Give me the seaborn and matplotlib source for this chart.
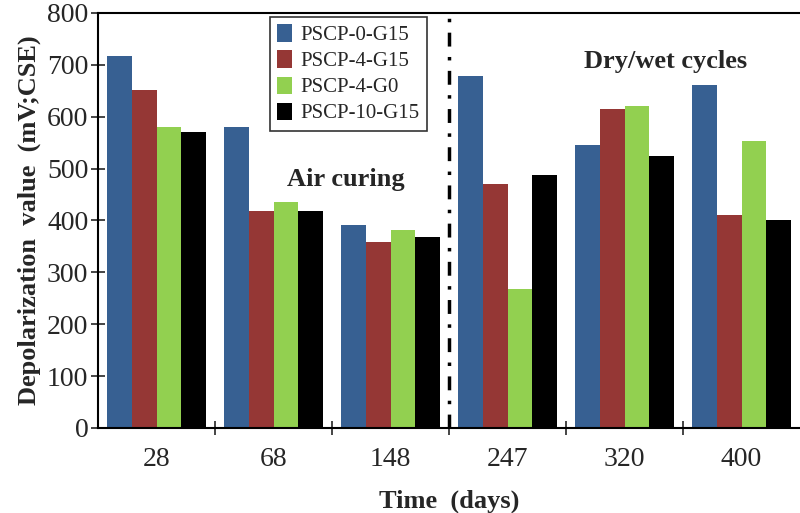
import pandas as pd
import matplotlib
matplotlib.use('Agg')
import matplotlib.pyplot as plt
import seaborn as sns

# Data
days = ['28', '68', '148', '247', '320', '400']
pscp_0_g15 = [717, 581, 391, 678, 545, 661]
pscp_4_g15 = [651, 418, 358, 471, 615, 411]
pscp_4_g0 = [581, 435, 381, 268, 620, 554]
pscp_10_g15 = [570, 418, 368, 488, 524, 401]

series = {
    'PSCP-0-G15': pscp_0_g15,
    'PSCP-4-G15': pscp_4_g15,
    'PSCP-4-G0': pscp_4_g0,
    'PSCP-10-G15': pscp_10_g15,
}
colors = ['#376092', '#953735', '#92D050', '#000000']

rows = []
for name, vals in series.items():
    for d, v in zip(days, vals):
        rows.append({'Time': d, 'Value': v, 'Mix': name})
df = pd.DataFrame(rows)

sns.set_style('white')
plt.rcParams['font.family'] = ['Liberation Serif', 'DejaVu Serif']

fig = plt.figure(figsize=(8, 5.13), dpi=100)
ax = fig.add_axes([0.1225, 0.1657, 0.8775, 0.809])

sns.barplot(data=df, x='Time', y='Value', hue='Mix', order=days,
            palette=colors, width=0.85, saturation=1, linewidth=0,
            ax=ax, legend=True)

ax.set_xlim(-0.5, 5.5)
ax.set_ylim(0, 800)
ax.set_yticks(range(0, 801, 100))
ax.tick_params(axis='y', labelsize=20, direction='inout', length=10, width=1.2, left=True, pad=2)
ax.tick_params(axis='x', labelsize=20, length=0, pad=14)
ax.set_xticks([i + 0.5 for i in range(5)], minor=True)
ax.tick_params(axis='x', which='minor', direction='inout', length=10, width=1.2, bottom=True)

for s in ['left', 'bottom', 'top']:
    ax.spines[s].set_linewidth(1.5)
    ax.spines[s].set_color('black')
ax.spines['right'].set_visible(False)

ax.axvline(2.5, color='black', lw=2.5, linestyle=(0, (4, 3, 1, 3)))

ax.set_xlabel('Time  (days)', fontsize=19, fontweight='bold', labelpad=12)
ax.set_ylabel('Depolarization  value  (mV;CSE)', fontsize=19, fontweight='bold', labelpad=4)

ax.text(1.62, 479, 'Air curing', fontsize=19, fontweight='bold', ha='center', va='center')
ax.text(4.35, 707, 'Dry/wet cycles', fontsize=19, fontweight='bold', ha='center', va='center')

leg = ax.legend(loc='upper left', bbox_to_anchor=(0.245, 0.99), fontsize=15,
                frameon=True, fancybox=False, edgecolor='black',
                handlelength=0.7, handleheight=0.9, handletextpad=0.4,
                labelspacing=0.25, borderpad=0.35, borderaxespad=0)
leg.get_frame().set_linewidth(1.2)
leg.set_title(None)

fig.savefig('out.png', dpi=100)
